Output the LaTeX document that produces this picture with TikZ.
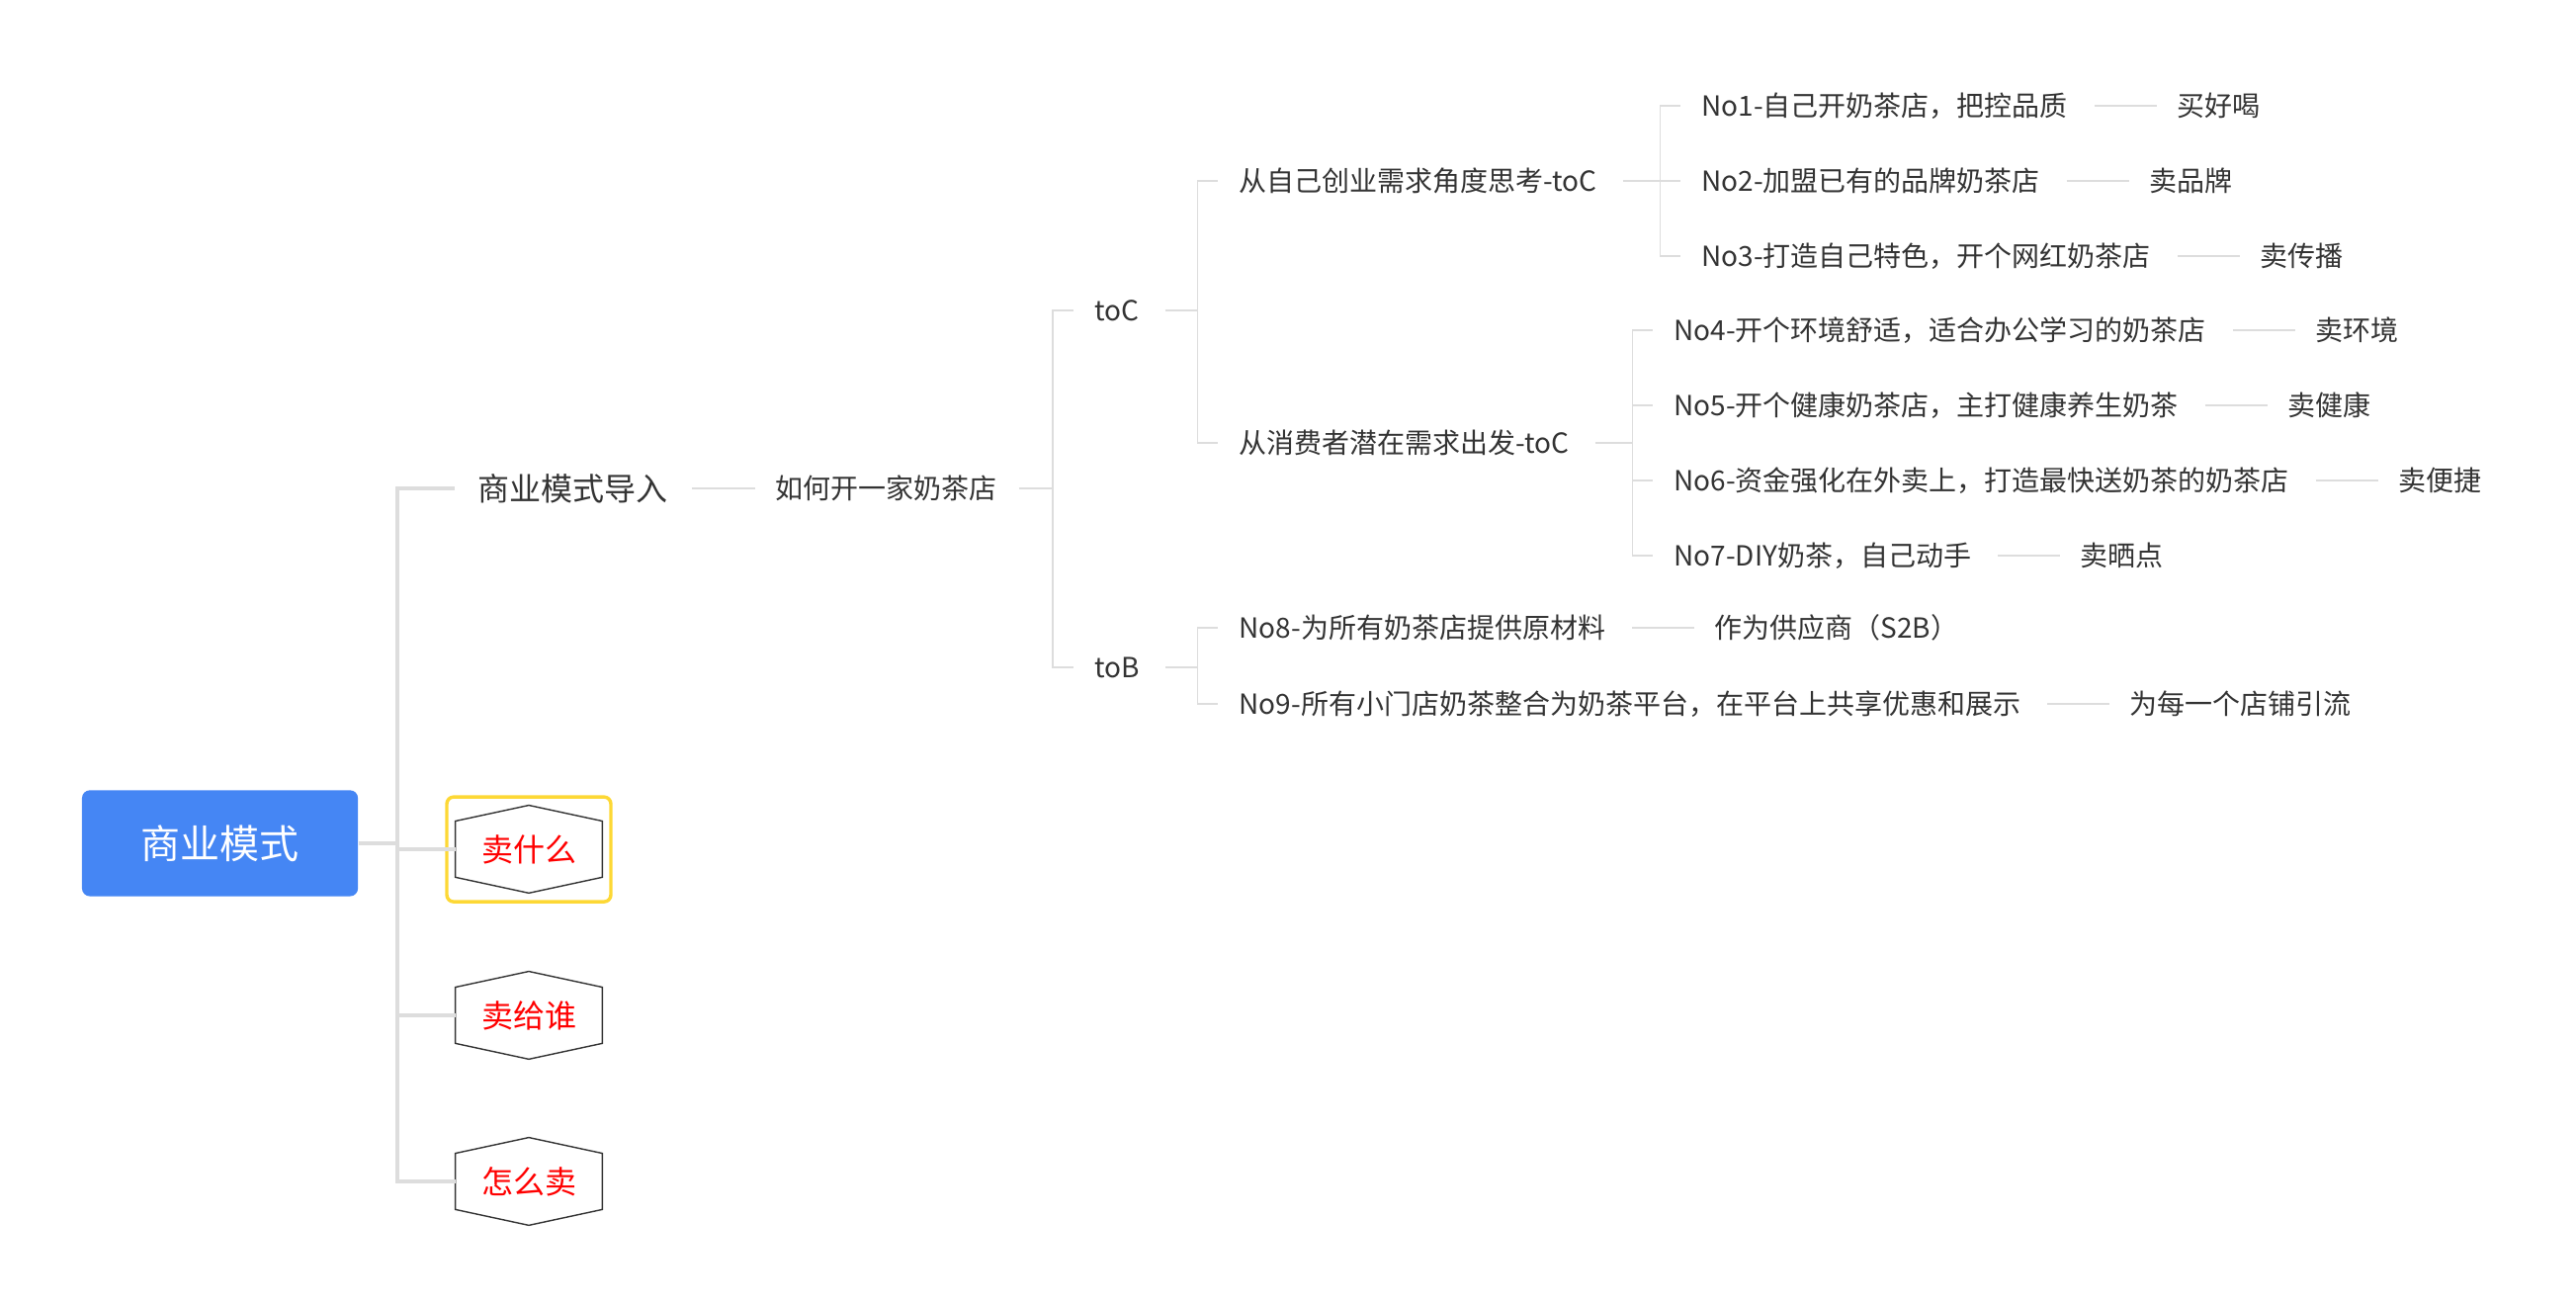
\documentclass[tikz,border=0pt]{standalone}
\usepackage{fontspec}
\setmainfont{Noto Sans CJK SC}
\usetikzlibrary{positioning,calc}
\definecolor{txt}{HTML}{333333}
\definecolor{lin}{HTML}{DDDDDD}
\definecolor{bluebox}{HTML}{4586F4}
\definecolor{hlc}{HTML}{FDD835}
\definecolor{redtxt}{HTML}{FF0000}
\definecolor{hexl}{HTML}{333333}
\newcommand\hexdraw[1]{\draw[hexline] (#1.north) -- ([yshift=-8pt]#1.north east) -- ([yshift=8pt]#1.south east) -- (#1.south) -- ([yshift=8pt]#1.south west) -- ([yshift=-8pt]#1.north west) -- cycle;}
\begin{document}
\begin{tikzpicture}[x=0.831pt,y=-0.831pt,
  lab/.style={anchor=west,inner sep=0pt,text=txt,font=\fontsize{14}{16}\selectfont,text height=12.3pt,text depth=1.7pt},
  lab1/.style={lab,font=\fontsize{16}{18}\selectfont,text height=14.1pt,text depth=1.9pt},
  conn/.style={draw=lin,line width=0.8pt},
  trunk/.style={draw=lin,line width=1.7pt},
  hexline/.style={draw=hexl,line width=0.7pt},
  hexnode/.style={minimum width=74pt,minimum height=44pt,inner sep=0pt,text=redtxt,font=\fontsize{16}{18}\selectfont,text height=14.1pt,text depth=1.9pt},
  rootbox/.style={fill=bluebox,rounded corners=4pt,minimum width=139.6pt,minimum height=53.6pt,text=white,font=\fontsize{20}{22}\selectfont,text height=17.6pt,text depth=2.4pt,inner sep=0pt},
  res/.style={lab,right=54.8pt of #1},
]
\useasboundingbox (0,0) rectangle (1568,794.2);

% nodes
\node[rootbox] (root) at (133.9,513.2) {商业模式};
\node[lab1] (intro) at (290.6,297.2) {商业模式导入};
\node[hexnode] (h1) at (321.9,516.8) {卖什么};
\node[hexnode] (h2) at (321.9,617.9) {卖给谁};
\node[hexnode] (h3) at (321.9,719.0) {怎么卖};
\node[lab] (how) at (471.7,297.2) {如何开一家奶茶店};
\node[lab] (toc) at (666,188.9) {toC};
\node[lab] (tob) at (666,406) {toB};
\node[lab] (c1) at (754,110.1) {从自己创业需求角度思考-toC};
\node[lab] (c2) at (754,269.5) {从消费者潜在需求出发-toC};
\node[lab] (n1) at (1035.5,64.4) {No1-自己开奶茶店，把控品质};
\node[lab] (n2) at (1035.5,110.1) {No2-加盟已有的品牌奶茶店};
\node[lab] (n3) at (1035.5,155.8) {No3-打造自己特色，开个网红奶茶店};
\node[lab] (n4) at (1018.6,201) {No4-开个环境舒适，适合办公学习的奶茶店};
\node[lab] (n5) at (1018.6,246.7) {No5-开个健康奶茶店，主打健康养生奶茶};
\node[lab] (n6) at (1018.6,292.3) {No6-资金强化在外卖上，打造最快送奶茶的奶茶店};
\node[lab] (n7) at (1018.6,338.2) {No7-DIY奶茶，自己动手};
\node[lab] (n8) at (754,382) {No8-为所有奶茶店提供原材料};
\node[lab] (n9) at (754,428.4) {No9-所有小门店奶茶整合为奶茶平台，在平台上共享优惠和展示};
\node[res=n1] (r1) {买好喝};
\node[res=n2] (r2) {卖品牌};
\node[res=n3] (r3) {卖传播};
\node[res=n4] (r4) {卖环境};
\node[res=n5] (r5) {卖健康};
\node[res=n6] (r6) {卖便捷};
\node[res=n7] (r7) {卖晒点};
\node[res=n8] (r8) {作为供应商（S2B）};
\node[res=n9] (r9) {为每一个店铺引流};

% hexagons and highlight
\hexdraw{h1}
\hexdraw{h2}
\hexdraw{h3}
\draw[hlc,line width=1.7pt,rounded corners=3.5pt] ([shift={(-4.3pt,4.2pt)}]h1.north west) rectangle ([shift={(4.3pt,-4.4pt)}]h1.south east);

% main trunk
\coordinate (tr) at (241.9,513.2);
\draw[trunk] (root.east) -- (tr);
\draw[trunk] (tr) |- ([xshift=-11.5pt]intro.west);
\draw[trunk] (tr) |- (h1.west);
\draw[trunk] (tr) |- (h2.west);
\draw[trunk] (tr) |- (h3.west);

% level connectors
\draw[conn] ([xshift=12pt]intro.east) -- ([xshift=-10pt]how.west);

\coordinate (j0) at ([xshift=-20.8pt]toc.west);
\draw[conn] ([xshift=11pt]how.east) -- (how.east -| j0);
\draw[conn] (how.east -| j0) |- ([xshift=-10.4pt]toc.west);
\draw[conn] (how.east -| j0) |- ([xshift=-10.4pt]tob.west);

\coordinate (j1) at ([xshift=-20.8pt]c1.west);
\draw[conn] ([xshift=13pt]toc.east) -- (toc.east -| j1);
\draw[conn] (toc.east -| j1) |- ([xshift=-10.4pt]c1.west);
\draw[conn] (toc.east -| j1) |- ([xshift=-10.4pt]c2.west);

\draw[conn] ([xshift=13pt]tob.east) -- (tob.east -| j1);
\draw[conn] (tob.east -| j1) |- ([xshift=-10.4pt]n8.west);
\draw[conn] (tob.east -| j1) |- ([xshift=-10.4pt]n9.west);

\coordinate (j2) at ([xshift=-20.8pt]n1.west);
\draw[conn] ([xshift=13pt]c1.east) -- (c1.east -| j2);
\draw[conn] (c1.east -| j2) |- ([xshift=-10.4pt]n1.west);
\draw[conn] (c1.east -| j2) |- ([xshift=-10.4pt]n2.west);
\draw[conn] (c1.east -| j2) |- ([xshift=-10.4pt]n3.west);

\coordinate (j3) at ([xshift=-20.8pt]n4.west);
\draw[conn] ([xshift=13pt]c2.east) -- (c2.east -| j3);
\draw[conn] (c2.east -| j3) |- ([xshift=-10.4pt]n4.west);
\draw[conn] (c2.east -| j3) |- ([xshift=-10.4pt]n5.west);
\draw[conn] (c2.east -| j3) |- ([xshift=-10.4pt]n6.west);
\draw[conn] (c2.east -| j3) |- ([xshift=-10.4pt]n7.west);

% leaf connectors
\foreach \i in {1,...,9}{
  \draw[conn] ([xshift=13.3pt]n\i.east) -- ([xshift=-10pt]r\i.west);
}
\end{tikzpicture}
\end{document}
